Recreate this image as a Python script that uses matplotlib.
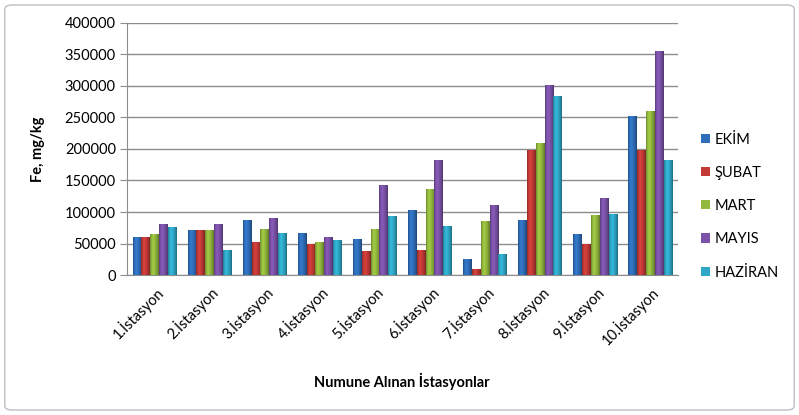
import numpy as np
import matplotlib
matplotlib.use("Agg")
import matplotlib.pyplot as plt
from matplotlib.patches import FancyBboxPatch
from matplotlib.colors import to_rgb

plt.rcParams['font.family'] = ['Lato', 'DejaVu Sans']

stations = ["1.İstasyon", "2.İstasyon", "3.İstasyon", "4.İstasyon", "5.İstasyon",
            "6.İstasyon", "7.İstasyon", "8.İstasyon", "9.İstasyon", "10.İstasyon"]
months = ["EKİM", "ŞUBAT", "MART", "MAYIS", "HAZİRAN"]

ekim    = [60000, 70000, 87000, 66000, 56000, 103000, 25000, 87000, 64000, 251000]
subat   = [60000, 70000, 52000, 49000, 37000, 39000, 9000, 198000, 49000, 198000]
mart    = [64000, 70000, 71500, 52000, 71500, 135000, 85000, 208000, 94000, 259000]
mayis   = [79500, 79500, 89500, 60000, 142000, 182000, 111000, 301000, 122000, 354000]
haziran = [75000, 39000, 66000, 54000, 93000, 77000, 32000, 283000, 96000, 182000]

series = [ekim, subat, mart, mayis, haziran]
colors = ["#2F6EBA", "#C23A36", "#93B83E", "#7B52A8", "#2FA8C7"]

fig = plt.figure(figsize=(7.99, 4.15), dpi=100)
fig.patches.append(FancyBboxPatch((0.006, 0.012), 0.988, 0.976,
                                  boxstyle="round,pad=0,rounding_size=0.01",
                                  transform=fig.transFigure, facecolor="white",
                                  edgecolor="#BFBFBF", linewidth=1.0, zorder=-1))
ax = fig.add_axes([127 / 799, 1 - 275 / 415, (678 - 127) / 799, (275 - 23) / 415])

# horizontal shading profile for the cylinder-like bars
prof = np.interp(np.linspace(0, 1, 32), [0, 0.12, 0.35, 0.75, 1.0],
                 [0.72, 0.95, 1.12, 0.9, 0.65])

x = np.arange(len(stations))
w = 0.16
for i, (vals, c) in enumerate(zip(series, colors)):
    bars = ax.bar(x + (i - 2) * w, vals, width=w, color=c, edgecolor="none",
                  label=months[i], zorder=3)
    rgb = np.array(to_rgb(c))
    grad = np.clip(prof[:, None] * rgb[None, :], 0, 1)[None, :, :]
    for b in bars:
        bx, bw, bh = b.get_x(), b.get_width(), b.get_height()
        ax.imshow(grad, extent=[bx, bx + bw, 0, bh], aspect="auto",
                  interpolation="bilinear", zorder=3.5)

ax.set_xlim(-0.5, len(stations) - 0.5)
ax.set_ylim(0, 400000)
ax.set_yticks(np.arange(0, 400001, 50000))
ax.set_yticklabels([str(v) for v in range(0, 400001, 50000)], fontsize=10.5)
ax.yaxis.grid(True, color="#8C8C8C", linewidth=1.0, zorder=0)
ax.set_axisbelow(True)
ax.set_xticks(x)
ax.set_xticklabels(stations, rotation=45, ha="right", rotation_mode="anchor", fontsize=10.5)
ax.tick_params(axis="x", length=0, pad=6)
ax.tick_params(axis="y", length=5, color="#8C8C8C", pad=3)
for s in ["top", "right"]:
    ax.spines[s].set_visible(False)
ax.spines["left"].set_color("#8C8C8C")
ax.spines["bottom"].set_color("#8C8C8C")

ax.set_ylabel("Fe, mg/kg", fontsize=10.5, fontweight="bold", labelpad=14)
fig.text(402 / 799, 1 - 381 / 415, "Numune Alınan İstasyonlar", ha="center",
         va="center", fontsize=10.5, fontweight="bold")

leg = ax.legend(loc="center left", bbox_to_anchor=(688 / 799, 1 - 206 / 415),
                bbox_transform=fig.transFigure, frameon=False, fontsize=10.5,
                handlelength=0.6, handleheight=0.6, handletextpad=0.3,
                labelspacing=1.32)

fig.savefig("out.png", dpi=100)
